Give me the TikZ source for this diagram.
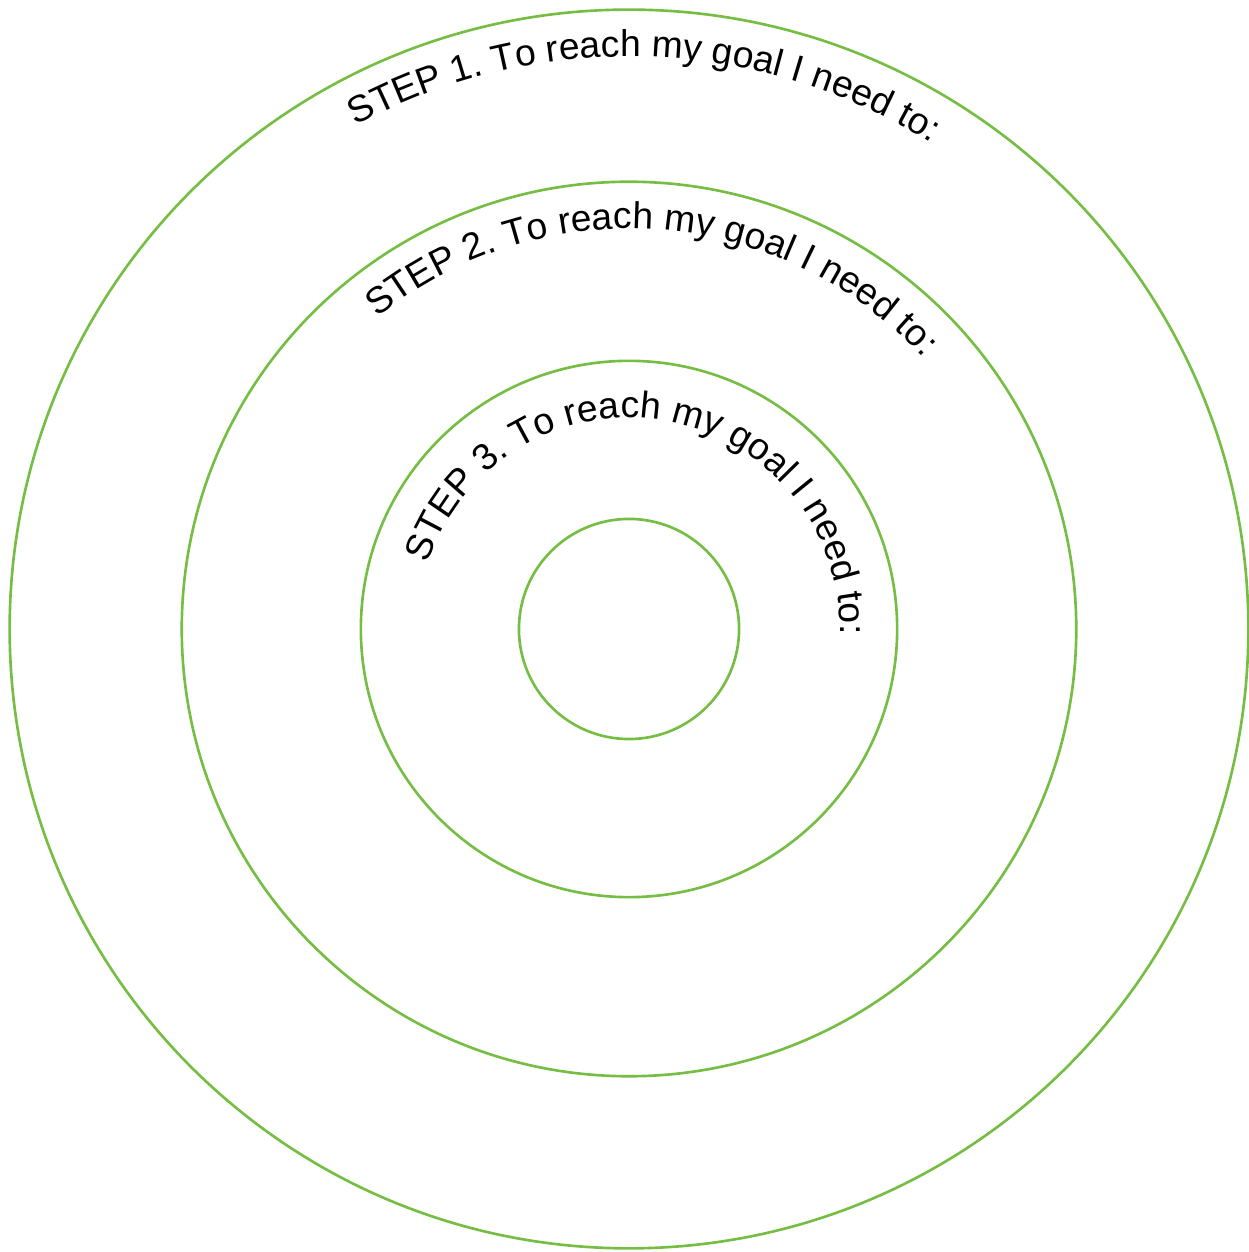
\documentclass[tikz,border=0pt]{standalone}
\usepackage{fontspec}
\setmainfont{Liberation Sans}
\usetikzlibrary{decorations.text}
\definecolor{ringgreen}{RGB}{118,189,67}

\begin{document}
\begin{tikzpicture}[
  x=0.01cm, y=0.01cm,
  ring/.style={draw=ringgreen, line width=0.75pt, circle, inner sep=0pt},
  steptext/.style={decorate, decoration={text along path, text align=left,
      text={|\fontsize{10.6}{12}\selectfont|#1}}}
]
  \useasboundingbox (0,0) rectangle (1249,1252);
  \coordinate (c) at (629,623);

  % rings, outside in
  \node[ring, minimum size=12.38cm] (ring1) at (c) {};
  \node[ring, minimum size=8.94cm]  (ring2) at (c) {};
  \node[ring, minimum size=5.36cm]  (ring3) at (c) {};
  \node[ring, minimum size=2.20cm]  (goal)  at (c) {};

  % curved labels
  \begin{scope}[shift={(c)}]
    \path[steptext={STEP 1. To reach my goal I need to:}]
      (118.5:5.72cm) arc[start angle=118.5, end angle=20, radius=5.72cm];
    \path[steptext={STEP 2. To reach my goal I need to:}]
      (129:4.00cm) arc[start angle=129, end angle=0, radius=4.00cm];
    \path[steptext={STEP 3. To reach my goal I need to:}]
      (162:2.11cm) arc[start angle=162, end angle=-60, radius=2.11cm];
  \end{scope}
\end{tikzpicture}
\end{document}
